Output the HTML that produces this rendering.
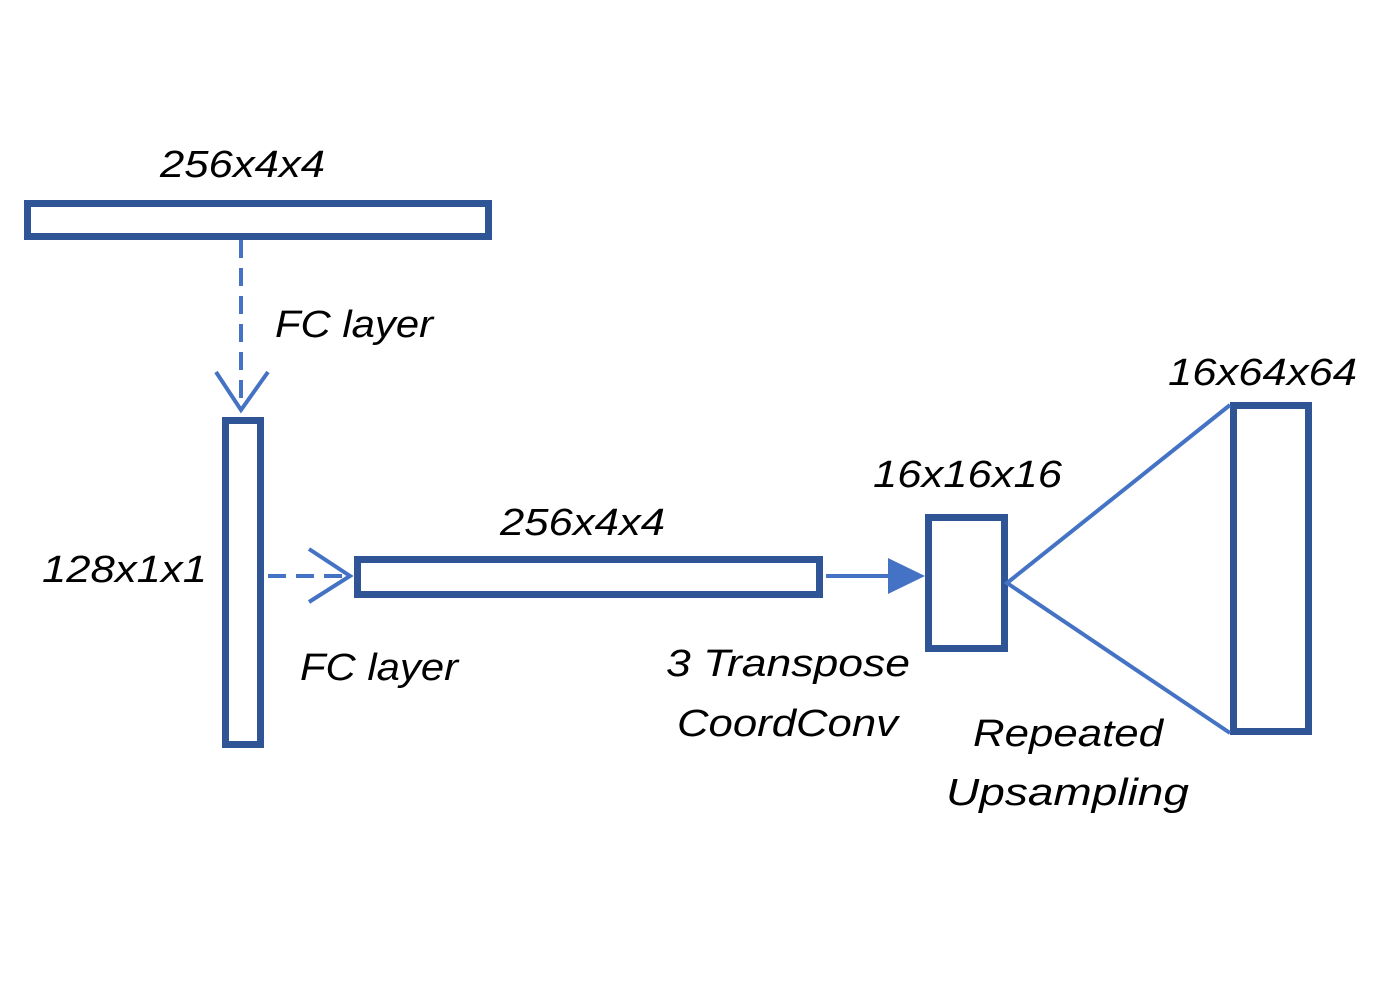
<!DOCTYPE html>
<html><head><meta charset="utf-8"><style>html,body{margin:0;padding:0;background:#fff}svg{display:block}</style></head>
<body>
<svg width="1380" height="993" viewBox="0 0 1380 993" xmlns="http://www.w3.org/2000/svg">
<g fill="none" stroke="#2f5597" stroke-width="7">
<rect x="27.5" y="203.5" width="461" height="33"/>
<rect x="225.5" y="420.5" width="35" height="324"/>
<rect x="357.5" y="559.5" width="462" height="35"/>
<rect x="928.5" y="517.5" width="76" height="131"/>
<rect x="1233.5" y="405.5" width="75" height="326"/>
</g>
<g fill="none" stroke="#4472c4" stroke-width="4">
<line x1="241" y1="240" x2="241" y2="408" stroke-dasharray="18,10"/>
<polyline points="216,372 241,410 268,372"/>
<line x1="268" y1="576" x2="350" y2="576" stroke-dasharray="18,10"/>
<polyline points="309,549 350,576 309,602"/>
<line x1="826" y1="576" x2="892" y2="576"/>
<polyline points="1230,405 1007,583 1230,733"/>
</g>
<polygon points="888,558 925,576 888,594" fill="#4472c4"/>
<g font-family="Liberation Sans, sans-serif" font-style="italic" font-size="38" fill="#000">
<text x="160" y="177" textLength="165" lengthAdjust="spacingAndGlyphs">256x4x4</text>
<text x="275" y="337" textLength="158" lengthAdjust="spacingAndGlyphs">FC layer</text>
<text x="1168" y="385" textLength="189" lengthAdjust="spacingAndGlyphs">16x64x64</text>
<text x="873" y="487" textLength="189" lengthAdjust="spacingAndGlyphs">16x16x16</text>
<text x="500" y="535" textLength="165" lengthAdjust="spacingAndGlyphs">256x4x4</text>
<text x="42" y="582" textLength="165" lengthAdjust="spacingAndGlyphs">128x1x1</text>
<text x="300" y="680" textLength="158" lengthAdjust="spacingAndGlyphs">FC layer</text>
<text x="666" y="676" textLength="244" lengthAdjust="spacingAndGlyphs">3 Transpose</text>
<text x="677" y="736" textLength="221" lengthAdjust="spacingAndGlyphs">CoordConv</text>
<text x="973" y="746" textLength="190" lengthAdjust="spacingAndGlyphs">Repeated</text>
<text x="946" y="805" textLength="243" lengthAdjust="spacingAndGlyphs">Upsampling</text>
</g>
</svg>
</body></html>
